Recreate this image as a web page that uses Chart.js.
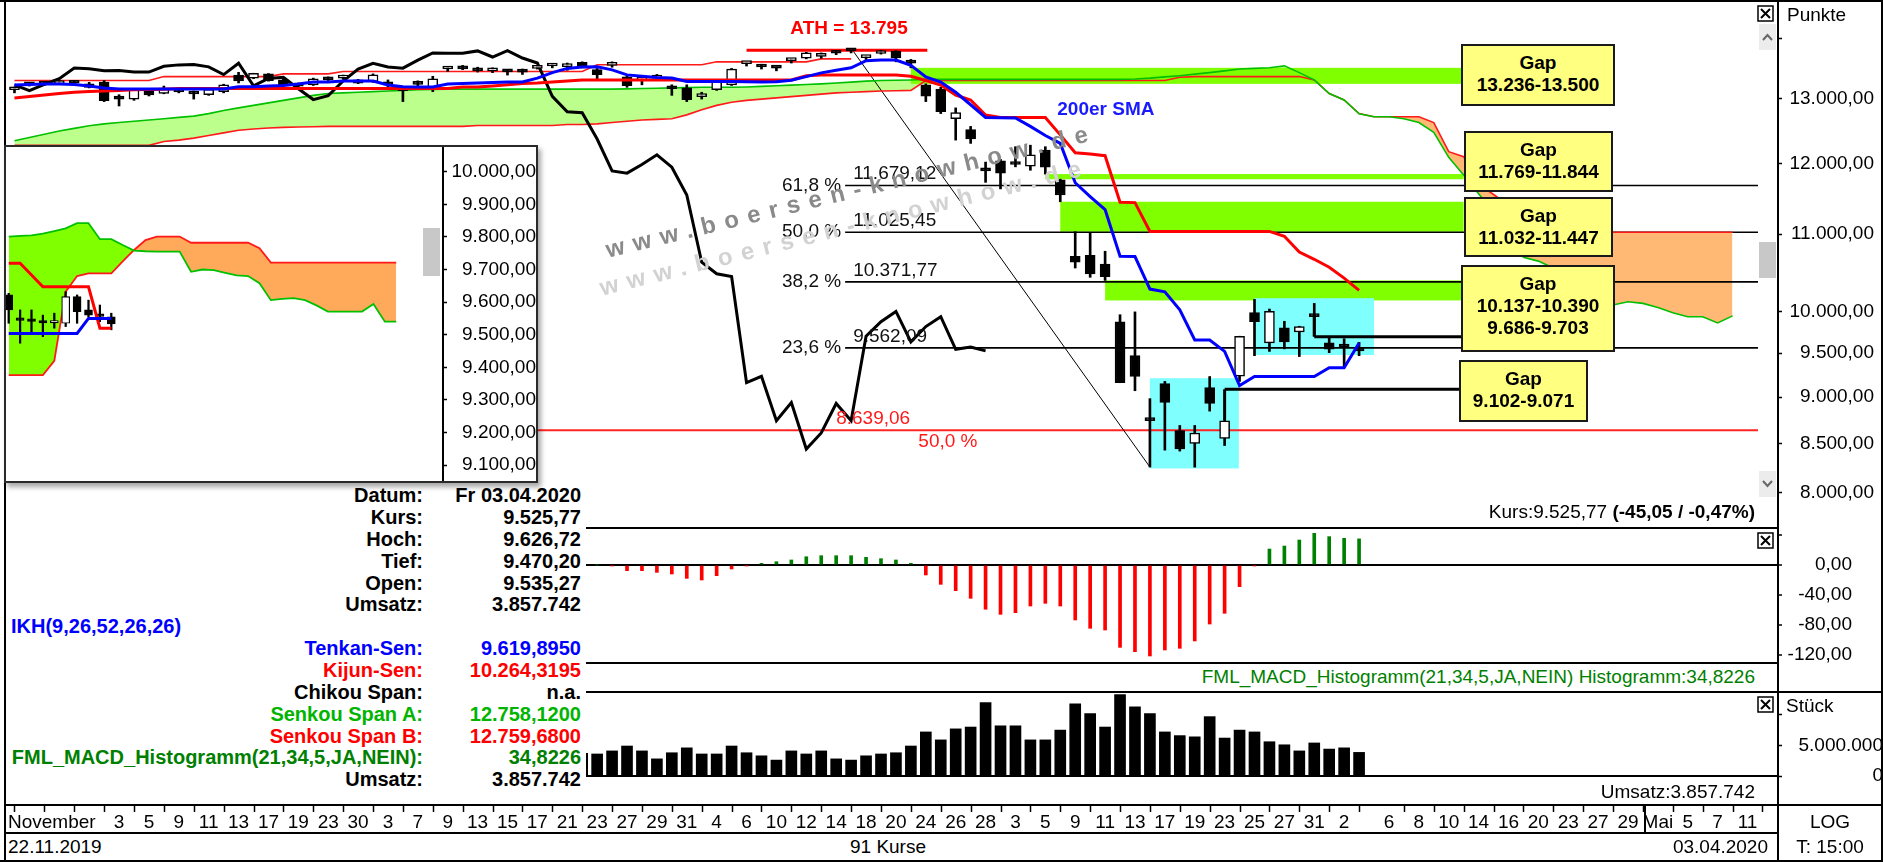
<!DOCTYPE html>
<html lang="de">
<head>
<meta charset="utf-8">
<title>DAX Ichimoku</title>
<script src="https://cdn.jsdelivr.net/npm/chart.js@4.4.1/dist/chart.umd.min.js"></script>
<style>
  html, body { margin:0; padding:0; background:#fff; }
  #root { position:relative; width:1883px; height:862px; overflow:hidden; background:#fff; font-family:'Liberation Sans', Arial, Helvetica, sans-serif; color:#000; }
  canvas { position:absolute; display:block; z-index:1; }
  .ln { position:absolute; background:#000; z-index:3; }
  .t { position:absolute; white-space:nowrap; font-size:19px; line-height:22px; height:22px; z-index:15; }
  .gap { position:absolute; z-index:16; background:#ffff80; border:2px solid #1a1a1a; box-sizing:border-box; font-weight:bold; font-size:19px; line-height:22px; text-align:center; padding-top:6px; }
  #inset { position:absolute; left:4px; top:145px; width:534px; height:338px; box-sizing:border-box; border:2px solid #2a2a2a; background:#fff; z-index:10; box-shadow:3px 4px 5px rgba(0,0,0,0.35); }
  #inset canvas { left:0; top:0; }
  #info { position:absolute; left:6px; top:484px; width:580px; height:310px; background:#fff; z-index:9; }
  .ir { position:absolute; white-space:nowrap; font-weight:bold; font-size:20px; line-height:22px; height:22px; }
  .wm { position:absolute; z-index:14; font-weight:bold; font-size:24px; letter-spacing:9px; white-space:nowrap; line-height:28px; height:28px; transform-origin:0 50%; }
  .xb { position:absolute; z-index:16; }
  .sb { position:absolute; z-index:16; background:#ececec; }
</style>
</head>
<body>
<div id="root">
  <canvas id="cMain" width="1883" height="527" style="left:0;top:0"></canvas>
  <canvas id="cMacd" width="1883" height="135" style="left:0;top:528px"></canvas>
  <canvas id="cVol" width="1883" height="141" style="left:0;top:692px"></canvas>

  <div id="inset">
    <canvas id="cInset" width="530" height="334"></canvas>
    <div style="position:absolute;left:417px;top:81px;width:17px;height:48px;background:#c8c8c8;z-index:2"></div>
  </div>

  <div id="info"></div>

  <!-- frame lines -->
  <div class="ln" style="left:0;top:0;width:1883px;height:2px"></div>
  <div class="ln" style="left:4px;top:0;width:2px;height:862px"></div>
  <div class="ln" style="left:1881px;top:0;width:2px;height:862px"></div>
  <div class="ln" style="left:0;top:860px;width:1883px;height:2px"></div>
  <div class="ln" style="left:1777px;top:0;width:2px;height:862px"></div>
  <div class="ln" style="left:4px;top:527px;width:1775px;height:2px"></div>
  <div class="ln" style="left:4px;top:662px;width:1775px;height:2px"></div>
  <div class="ln" style="left:4px;top:691px;width:1879px;height:2px"></div>
  <div class="ln" style="left:4px;top:804px;width:1879px;height:2px"></div>
  <div class="ln" style="left:4px;top:832px;width:1775px;height:2px"></div>
  <div class="ln" style="left:1644px;top:805px;width:2px;height:28px"></div>

  <!-- gap callouts -->
  <div class="gap" style="left:1461px;top:44px;width:154px;height:62px">Gap<br>13.236-13.500</div>
  <div class="gap" style="left:1464px;top:131px;width:149px;height:61px">Gap<br>11.769-11.844</div>
  <div class="gap" style="left:1464px;top:197px;width:149px;height:60px">Gap<br>11.032-11.447</div>
  <div class="gap" style="left:1461px;top:265px;width:154px;height:87px">Gap<br>10.137-10.390<br>9.686-9.703</div>
  <div class="gap" style="left:1459px;top:360px;width:129px;height:62px">Gap<br>9.102-9.071</div>

  <!-- watermark -->
  <div class="wm" style="left:606px;top:236px;color:#8a8a8a;transform:rotate(-13.6deg)">www.boersen-knowhow.de</div>
  <div class="wm" style="left:600px;top:274px;color:#d2d2d2;transform:rotate(-14deg)">www.boersen-knowhow.de</div>

  <!-- scroll / close widgets -->
  <svg class="xb" style="left:1757px;top:5px" width="17" height="17"><rect x="1" y="1" width="15" height="15" fill="#fff" stroke="#000" stroke-width="1.5"/><path d="M4 4L13 13M13 4L4 13" stroke="#000" stroke-width="2"/></svg>
  <svg class="xb" style="left:1757px;top:532px" width="17" height="17"><rect x="1" y="1" width="15" height="15" fill="#fff" stroke="#000" stroke-width="1.5"/><path d="M4 4L13 13M13 4L4 13" stroke="#000" stroke-width="2"/></svg>
  <svg class="xb" style="left:1757px;top:696px" width="17" height="17"><rect x="1" y="1" width="15" height="15" fill="#fff" stroke="#000" stroke-width="1.5"/><path d="M4 4L13 13M13 4L4 13" stroke="#000" stroke-width="2"/></svg>
  <div class="sb" style="left:1759px;top:24px;width:17px;height:26px"><svg width="17" height="26"><path d="M4 16L8.5 11L13 16" stroke="#666" stroke-width="2" fill="none"/></svg></div>
  <div class="sb" style="left:1759px;top:242px;width:17px;height:36px;background:#c8c8c8"></div>
  <div class="sb" style="left:1759px;top:471px;width:17px;height:26px"><svg width="17" height="26"><path d="M4 10L8.5 15L13 10" stroke="#666" stroke-width="2" fill="none"/></svg></div>

  <!-- texts -->
  <div class="t" style="left:1787px;top:4px">Punkte</div>
  <div class="t" style="left:1786px;top:695px">Stück</div>
  <div class="t" style="right:128px;top:501px">Kurs:9.525,77 <b>(-45,05 / -0,47%)</b></div>
  <div class="t" style="right:128px;top:666px;color:#008000">FML_MACD_Histogramm(21,34,5,JA,NEIN) Histogramm:34,8226</div>
  <div class="t" style="right:128px;top:781px">Umsatz:3.857.742</div>
  <div class="t" style="left:8px;top:836px">22.11.2019</div>
  <div class="t" style="left:838px;top:836px;width:100px;text-align:center">91 Kurse</div>
  <div class="t" style="left:1600px;top:836px;width:168px;text-align:right">03.04.2020</div>
  <div class="t" style="left:1780px;top:811px;width:100px;text-align:center">LOG</div>
  <div class="t" style="left:1780px;top:836px;width:100px;text-align:center">T: 15:00</div>
</div>

<script>
// ---------------- DATA ----------------
// candles, one per trading day 22.11.2019 .. 03.04.2020 (91 bars)
const OPEN = [13140,13220,13250,13240,13280,13180,13266,13040,12990,13150,
 13080,13150,13090,13060,13110,13380,13330,13400,13300,13200,
 13220,13320,13330,13300,13270,13260,13130,13230,13140,13480,
 13510,13500,13450,13450,13470,13490,13530,13520,13590,13470,
 13540,13350,13300,13330,13170,13170,13030,13140,13220,13570,
 13530,13500,13620,13660,13690,13770,13785,13670,13740,13780,
 13590,13220,13150,12680,12510,11900,12040,12000,11960,12200,
 11760,10704,10717,10600,9874,9470,8750,9150,8635,8500,
 9105,8552,9235,9985,9620,9800,9750,9960,9620,9580,
 9535.27];
const HIGH = [13185,13260,13270,13290,13290,13260,13290,13060,13150,13160,
 13200,13170,13120,13160,13230,13425,13410,13405,13310,13250,
 13330,13350,13380,13310,13400,13300,13150,13285,13360,13510,
 13540,13510,13500,13470,13480,13540,13560,13580,13600,13490,
 13600,13360,13370,13390,13220,13220,13100,13300,13490,13590,
 13560,13510,13650,13760,13750,13780,13790,13700,13795,13790,
 13640,13236,13180,12850,12560,12020,12060,12250,12273,12250,
 11769,11032,11010,10770,9960,9995,8982,9175,8690,8690,
 9230,8760,9700,10150,10030,9880,9820,10100,9686,9670,
 9626.72];
const LOW = [13090,13200,13215,13235,13230,13170,12950,12880,12970,13040,
 13075,13090,12990,13050,13090,13250,13320,13280,13200,13170,
 13210,13290,13310,13240,13260,13180,12950,13200,13110,13440,
 13470,13430,13420,13380,13390,13480,13500,13460,13500,13300,
 13510,13180,13220,13300,13050,12950,12990,13130,13210,13530,
 13480,13450,13580,13650,13660,13720,13750,13620,13730,13600,
 13500,12950,12760,12350,12300,11724,11630,11950,11900,11844,
 11447,10550,10430,10390,9160,9070,8256,8430,8420,8255,
 8845,8478,9175,9470,9520,9550,9460,9703,9505,9340,
 9470.20];
const CLOSE = [13164,13246,13233,13287,13246,13236,12965,12989,13141,13055,
 13167,13106,13071,13149,13222,13283,13408,13288,13222,13212,
 13319,13301,13337,13249,13386,13219,13127,13227,13320,13495,
 13483,13452,13456,13432,13429,13526,13549,13556,13516,13388,
 13577,13205,13324,13345,13157,12982,13045,13282,13478,13575,
 13514,13494,13628,13750,13745,13744,13784,13681,13789,13664,
 13579,13035,12790,12775,12367,11890,11858,11985,12128,11945,
 11542,10625,10475,10439,9161,9232,8742,8939,8442,8610,
 8929,8741,9700,9874,10001,9632,9816,9936,9545,9571,
 9525.77];

// Ichimoku IKH(9,26,52,26,26)
const TENKAN = [13217,13225,13233,13233,13225,13200,13168,13152,13152,13152,
 13152,13152,13152,13152,13152,13190,13190,13200,13210,13233,
 13266,13266,13282,13282,13282,13217,13190,13184,13184,13233,
 13240,13250,13260,13266,13266,13330,13420,13490,13515,13517,
 13466,13383,13360,13340,13330,13275,13275,13275,13275,13270,
 13265,13270,13295,13355,13416,13460,13500,13620,13630,13630,
 13540,13350,13266,13100,12900,12700,12695,12690,12560,12420,
 12300,11718,11520,11337,10704,10700,10280,10245,10020,9655,
 9655,9520,9127,9230,9230,9230,9230,9230,9330,9330,
 9619.9];
const KIJUN = [13008,13030,13055,13080,13100,13110,13120,13130,13140,13145,
 13150,13160,13160,13160,13160,13160,13160,13160,13160,13160,
 13160,13160,13160,13160,13160,13160,13160,13160,13160,13160,
 13185,13185,13200,13220,13240,13250,13266,13283,13300,13300,
 13300,13300,13300,13300,13300,13300,13300,13300,13300,13300,
 13300,13300,13300,13367,13383,13383,13383,13383,13383,13383,
 13360,13290,13217,13055,12975,12738,12700,12700,12700,12700,
 12430,12160,12140,12115,11440,11435,11036,11036,11036,11036,
 11036,11036,11036,11036,11036,10970,10760,10664,10560,10420,
 10264.32];
const CHIKOU = [13219,13127,13227,13320,13495,13483,13452,13456,13432,13429,
 13526,13549,13556,13516,13388,13577,13205,13324,13345,13157,
 12982,13045,13282,13478,13575,13514,13494,13628,13750,13745,
 13744,13784,13681,13789,13664,13579,13035,12790,12775,12367,
 11890,11858,11985,12128,11945,11542,10625,10475,10439,9161,
 9232,8742,8939,8442,8610,8929,8741,9701,9874,10001,
 9633,9816,9936,9545,9571,9526];
const SENKOU_A = [12340,12390,12440,12490,12530,12570,12600,12620,12640,12660,
 12680,12700,12720,12760,12810,12850,12890,12930,12970,13010,
 13050,13080,13090,13100,13110,13120,13130,13140,13145,13150,
 13150,13150,13150,13150,13150,13150,13150,13150,13150,13150,
 13150,13155,13160,13165,13170,13175,13180,13180,13180,13185,
 13195,13205,13215,13225,13235,13250,13265,13280,13290,13295,
 13300,13310,13310,13310,13310,13310,13310,13310,13310,13310,
 13310,13310,13310,13310,13310,13316,13330,13350,13370,13395,
 13420,13450,13480,13490,13500,13533,13420,13300,13080,12975,
 12758,12710,12710,12680,12620,12470,12090,11830,11560,11300,
 11000,10690,10640,10550,10420,10280,10160,10080,10120,10100,
 10050,9983,9935,9935,9860,9946];
const SENKOU_B = [12270,12270,12270,12270,12270,12270,12270,12270,12270,12270,
 12330,12350,12380,12420,12460,12500,12520,12535,12545,12550,
 12555,12560,12560,12560,12560,12560,12560,12560,12560,12560,
 12560,12575,12575,12575,12575,12575,12575,12590,12590,12600,
 12620,12640,12660,12670,12680,12740,12820,12890,12940,12970,
 12990,13010,13030,13050,13070,13090,13100,13110,13120,13125,
 13130,13290,13290,13290,13290,13290,13290,13290,13290,13290,
 13290,13290,13290,13290,13290,13290,13290,13290,13345,13355,
 13355,13355,13355,13355,13355,13355,13355,13300,13080,12975,
 12760,12710,12710,12710,12710,12620,12175,12100,11700,11550,
 11400,11200,11025,11025,11025,11025,11025,11025,11025,11025,
 11025,11025,11025,11025,11025,11025];
// thin red resistance line above the candles
const UPPER_LINE = [13290,13290,13290,13290,13290,13290,13290,13290,13290,13290,
 13355,13355,13355,13355,13355,13355,13355,13355,
 13400,13400,13400,13400,
 13440,13440,13440,13440,13440,13440,13440,13440,13440,13440,13440,13440,13440,13440,13440,13440,13440,
 13550,13550,13550,13550,13550,13550,13550,13550,
 13600,13600,13600,13600,13600,13600,13600,
 13650,13650,13650];

// FML_MACD_Histogramm(21,34,5,JA,NEIN)
const MACD_HIST = [5,6,7,6,5,3,-4,-8,-9,-8,
 -6,-5,-4,-2,1,4,7,8,7,6,
 6,5,5,3,4,2,-2,-1,1,4,
 6,7,6,5,4,3,4,3,1,0,
 -1,-7.6,-7.6,-9.8,-12,-17.8,-20,-14.2,-5.3,-1,
 2.2,4.4,6.7,11,12.4,12.4,12.4,10.2,8.4,6.7,
 2.2,-13.3,-25.8,-34.2,-44.4,-59,-65.8,-63.6,-54.7,-51.1,
 -54.7,-73.3,-84.4,-86.7,-109.8,-115.6,-121.3,-113.3,-111.1,-101.3,
 -78.7,-64.4,-28.9,-1,21.3,25.3,33.3,42.2,37.8,35.6,
 34.8226];

// Umsatz (Stück)
const VOLUME = [3900000,3200000,3000000,3100000,2200000,3300000,4100000,4000000,3800000,3600000,
 3700000,3000000,3200000,3400000,3900000,4600000,3800000,3500000,3200000,4000000,
 6200000,2200000,1600000,2000000,2500000,3200000,3300000,3600000,4100000,3700000,
 3500000,3300000,3400000,3500000,3900000,4400000,3000000,3800000,3700000,3600000,
 4100000,4900000,4100000,2800000,3800000,4600000,3600000,3600000,4900000,3800000,
 3300000,2600000,4100000,3600000,4100000,2800000,2600000,3300000,3600000,3800000,
 4900000,7200000,5900000,7700000,8000000,12000000,8200000,8200000,5900000,5900000,
 7500000,11800000,10200000,8000000,13300000,11300000,10200000,7200000,6600000,6400000,
 9700000,6200000,7500000,7200000,5600000,5100000,4100000,5400000,4400000,4600000,
 3857742];

// x axis labels (bar index -> text)
const XTICK_POS = [2.5,7,9,11,13,15,17,19,21,23,25,27,29,31,33,35,37,39,41,43,45,47,49,51,53,55,57,59,61,63,65,67,69,71,73,75,77,79,81,83,85,87,89,92,94,96,98,100,102,104,106,108,110,112,114,116];
const XTICK_TEXT = ['November','3','5','9','11','13','17','19','23','30','3','7','9','13','15','17','21','23','27','29','31','4','6','10','12','14','18','20','24','26','28','3','5','9','11','13','17','19','23','25','27','31','2','6','8','10','14','16','20','23','27','29','Mai','5','7','11'];
const XTICK_MARKS = [0,2,4,6,8,10,12,14,16,18,20,22,24,26,28,30,32,34,36,38,40,42,44,46,48,50,52,54,56,58,60,62,64,66,68,70,72,74,76,78,80,82,84,86,88,90,93,95,97,99,101,103,105,107,109,111,113,115,117];

// y axis tick values
const MAIN_TICKS = [8000,8500,9000,9500,10000,11000,12000,13000,14000];
const MACD_TICKS = [40,0,-40,-80,-120];
const VOL_TICKS = [0,5000000,10000000];
const INSET_TICKS = [9100,9200,9300,9400,9500,9600,9700,9800,9900,10000];

// annotations
const GAP_LOW = [13236, 11769, 11032, 10137];
const GAP_HIGH = [13500, 11844, 11447, 10390];
const GAP_START = [60, 69, 70, 73];
const GAP_END = 97;
const GAP_LINE_LOW = [9686, 9071];
const GAP_LINE_HIGH = [9703, 9102];
const GAP_LINE_START = [87, 81];
const GAP_LINE_LINK = [9970, 8750];
const BOX_X0 = [76, 83];
const BOX_X1 = [81.95, 91];
const BOX_LOW = [8242, 9478];
const BOX_HIGH = [9211, 10165];
const FIB_PCT = ['61,8 %', '50,0 %', '38,2 %', '23,6 %'];
const FIB_VALUE = [11679.12, 11025.45, 10371.77, 9562.09];
const FIB_FROM = 55.6;
const LINE_END = 116.7;
const RED_LEVEL = 8639.06;
const RED_LABEL_X = [55.0, 60.5];
const ATH_VALUE = 13795;
const ATH_RANGE = [49.0, 61.1];
const ATH_LABEL_X = 55.86;
const TREND_X = [56.1, 76.0];
const TREND_Y = [13795, 8256];
const SMA_LABEL = [69.8, 12817];

// inset (zoomed view)
const INSET_OPEN  = [9622, 9546, 9543, 9538, 9536, 9535, 9617, 9576, 9558, 9555];
const INSET_HIGH  = [9627, 9576, 9576, 9560, 9566, 9632, 9622, 9606, 9591, 9566];
const INSET_LOW   = [9535, 9474, 9509, 9494, 9520, 9525, 9535, 9555, 9540, 9515];
const INSET_CLOSE = [9576, 9544, 9541, 9536, 9537, 9617, 9571, 9560, 9556, 9533];
const INSET_TENKAN = [9504, 9504, 9504, 9504, 9504, 9504, 9504, 9550, 9550, 9550];
const INSET_KIJUN  = [9719, 9719, 9683, 9647, 9647, 9647, 9647, 9647, 9520, 9520];
const INSET_A = [9801,9803,9805,9810,9818,9826,9842,9842,9793,9793,
 9775,9758,9756,9755,9755,9755,9693,9700,9698,9690,
 9682,9680,9658,9606,9610,9612,9606,9590,9571,9571,
 9571,9571,9594,9540,9540];
const INSET_B = [9376,9376,9376,9376,9420,9632,9680,9688,9688,9688,
 9725,9760,9790,9801,9801,9801,9782,9782,9782,9782,
 9782,9782,9765,9721,9721,9721,9721,9721,9721,9721,
 9721,9721,9721,9721,9721];

// info panel
const INFO_LABELS = ['Datum:','Kurs:','Hoch:','Tief:','Open:','Umsatz:','IKH(9,26,52,26,26)','Tenkan-Sen:','Kijun-Sen:','Chikou Span:','Senkou Span A:','Senkou Span B:','FML_MACD_Histogramm(21,34,5,JA,NEIN):','Umsatz:'];
const INFO_VALUES = ['Fr 03.04.2020','9.525,77','9.626,72','9.470,20','9.535,27','3.857.742','','9.619,8950','10.264,3195','n.a.','12.758,1200','12.759,6800','34,8226','3.857.742'];
const INFO_COLORS = ['#000','#000','#000','#000','#000','#000','#0000ff','#0000ff','#ff0000','#000','#00b400','#ff0000','#008000','#000'];

// ---------------- HELPERS ----------------
const FONT = "'Liberation Sans', Arial, Helvetica, sans-serif";
Chart.defaults.font.family = FONT;
Chart.defaults.font.size = 19;
Chart.defaults.color = '#000';
Chart.defaults.animation = false;

function fmtDE(v, dec) {
  const neg = v < 0;
  const parts = Math.abs(v).toFixed(dec).split('.');
  const int = parts[0].replace(/\B(?=(\d{3})+(?!\d))/g, '.');
  return (neg ? '-' : '') + int + (dec ? ',' + parts[1] : '');
}
const P = arr => arr.map((v, i) => ({x: i, y: v}));
const X_MIN = -0.5, X_MAX = 118.04;
const xHidden = () => ({type: 'linear', min: X_MIN, max: X_MAX, offset: false, display: false, grid: {display: false}});
const commonPlugins = {legend: {display: false}, tooltip: {enabled: false}};
// fix axis size and drop the automatic label padding so the plot area is exact
const fitW = w => s => { s.width = w; s.paddingTop = 0; s.paddingBottom = 0; s.paddingLeft = 0; s.paddingRight = 0; };
const fitH = h => s => { s.height = h; s.paddingTop = 0; s.paddingBottom = 0; s.paddingLeft = 0; s.paddingRight = 0; };

// info panel rows
(function () {
  const box = document.getElementById('info');
  INFO_LABELS.forEach((lab, k) => {
    const top = (k * 21.87).toFixed(1) + 'px';
    const l = document.createElement('div');
    l.className = 'ir';
    l.style.top = top; l.style.color = INFO_COLORS[k];
    if (INFO_VALUES[k] === '') { l.style.left = '5px'; }
    else { l.style.left = '0px'; l.style.width = '417px'; l.style.textAlign = 'right'; }
    l.textContent = lab;
    box.appendChild(l);
    if (INFO_VALUES[k] !== '') {
      const v = document.createElement('div');
      v.className = 'ir';
      v.style.top = top; v.style.left = '420px'; v.style.width = '155px'; v.style.textAlign = 'right';
      v.style.color = INFO_COLORS[k];
      v.textContent = INFO_VALUES[k];
      box.appendChild(v);
    }
  });
})();

// ---------------- MAIN CHART ----------------
const mainAnnot = {
  id: 'mainAnnot',
  afterDatasetDraw(chart, args) {
    if (args.index !== 0) return;
    const {ctx, chartArea: ca} = chart;
    const xs = chart.scales.x, ys = chart.scales.y;
    const X = v => xs.getPixelForValue(v), Y = v => ys.getPixelForValue(v);
    const line = (x0, y0, x1, y1) => { ctx.beginPath(); ctx.moveTo(x0, y0); ctx.lineTo(x1, y1); ctx.stroke(); };
    ctx.save();
    ctx.beginPath(); ctx.rect(ca.left, ca.top, ca.right - ca.left, ca.bottom - ca.top); ctx.clip();
    ctx.fillStyle = '#80ff00';
    GAP_LOW.forEach((lo, k) => {
      const x0 = X(GAP_START[k]), x1 = X(GAP_END), y0 = Y(GAP_HIGH[k]), y1 = Y(lo);
      ctx.fillRect(x0, y0, x1 - x0, Math.max(3, y1 - y0));
    });
    ctx.fillStyle = '#80ffff';
    BOX_X0.forEach((x0, k) => {
      const a = X(x0), b = X(BOX_X1[k]), t = Y(BOX_HIGH[k]), u = Y(BOX_LOW[k]);
      ctx.fillRect(a, t, b - a, u - t);
    });
    ctx.strokeStyle = '#ff2424'; ctx.lineWidth = 2;
    line(X(X_MIN), Y(RED_LEVEL), X(LINE_END), Y(RED_LEVEL));
    ctx.strokeStyle = '#000'; ctx.lineWidth = 1.6;
    FIB_VALUE.forEach(v => line(X(FIB_FROM), Y(v), X(LINE_END), Y(v)));
    ctx.lineWidth = 1;
    line(X(TREND_X[0]), Y(TREND_Y[0]), X(TREND_X[1]), Y(TREND_Y[1]));
    ctx.lineWidth = 3;
    GAP_LINE_LOW.forEach((lo, k) => {
      const y = Y((lo + GAP_LINE_HIGH[k]) / 2);
      line(X(GAP_LINE_START[k]), y, X(GAP_END), y);
      line(X(GAP_LINE_START[k]), y, X(GAP_LINE_START[k]), Y(GAP_LINE_LINK[k]));
    });
    ctx.strokeStyle = '#ff0000'; ctx.lineWidth = 3;
    line(X(ATH_RANGE[0]), Y(ATH_VALUE), X(ATH_RANGE[1]), Y(ATH_VALUE));
    ctx.restore();
  },
  afterDatasetsDraw(chart) {
    const {ctx} = chart;
    const xs = chart.scales.x, ys = chart.scales.y;
    const X = v => xs.getPixelForValue(v), Y = v => ys.getPixelForValue(v);
    ctx.save();
    ctx.font = '19px ' + FONT;
    ctx.fillStyle = '#111';
    FIB_VALUE.forEach((v, k) => {
      const y = Y(v);
      ctx.textAlign = 'right'; ctx.textBaseline = 'middle';
      ctx.fillText(FIB_PCT[k], X(FIB_FROM) - 4, y);
      ctx.textAlign = 'left'; ctx.textBaseline = 'alphabetic';
      ctx.fillText(fmtDE(v, 2), X(FIB_FROM) + 8, y - 6);
    });
    ctx.fillStyle = '#ff1a1a';
    const yr = Y(RED_LEVEL);
    ctx.textAlign = 'left'; ctx.textBaseline = 'alphabetic';
    ctx.fillText(fmtDE(RED_LEVEL, 2), X(RED_LABEL_X[0]), yr - 6);
    ctx.textBaseline = 'middle';
    ctx.fillText('50,0 %', X(RED_LABEL_X[1]), yr + 12);
    ctx.font = 'bold 19px ' + FONT;
    ctx.fillStyle = '#ff0000'; ctx.textAlign = 'center'; ctx.textBaseline = 'middle';
    ctx.fillText('ATH = ' + fmtDE(ATH_VALUE, 0), X(ATH_LABEL_X), Y(ATH_VALUE) - 22);
    ctx.fillStyle = '#1a1aff'; ctx.textAlign = 'left';
    ctx.fillText('200er SMA', X(SMA_LABEL[0]), Y(SMA_LABEL[1]));
    ctx.restore();
  }
};

new Chart(document.getElementById('cMain'), {
  type: 'bar',
  data: {
    datasets: [
      {type: 'line', data: P(SENKOU_A), borderColor: 'rgba(0,0,0,0)', borderWidth: 1, pointRadius: 0,
       fill: {target: 1, above: '#bcff8c', below: '#ffb974'}, order: 100},
      {type: 'line', data: P(SENKOU_B), borderColor: '#ff1a1a', borderWidth: 1.6, pointRadius: 0, fill: false, order: 90},
      {type: 'line', data: P(SENKOU_A), borderColor: '#00c000', borderWidth: 1.6, pointRadius: 0, fill: false, order: 89},
      {type: 'line', data: P(UPPER_LINE), borderColor: '#ff1a1a', borderWidth: 1.6, pointRadius: 0, fill: false, order: 85},
      {type: 'line', data: P(CHIKOU), borderColor: '#000', borderWidth: 3, pointRadius: 0, fill: false, order: 80},
      {type: 'bar', data: LOW.map((l, i) => ({x: i, y: [l, HIGH[i]]})), backgroundColor: '#000',
       barThickness: 2, grouped: false, order: 70},
      {type: 'bar', data: OPEN.map((o, i) => ({x: i, y: [o, CLOSE[i]]})),
       backgroundColor: OPEN.map((o, i) => CLOSE[i] >= o ? '#ffffff' : '#000000'),
       borderColor: '#000', borderWidth: 1.5, borderSkipped: false, barThickness: 10, minBarLength: 3,
       grouped: false, order: 69},
      {type: 'line', data: P(KIJUN), borderColor: '#ff0000', borderWidth: 3, pointRadius: 0, fill: false, order: 60},
      {type: 'line', data: P(TENKAN), borderColor: '#0000ff', borderWidth: 3, pointRadius: 0, fill: false, order: 50}
    ]
  },
  options: {
    responsive: false, animation: false,
    layout: {padding: {left: 7, right: 9, top: 2, bottom: 3}},
    plugins: commonPlugins,
    scales: {
      x: xHidden(),
      y: {
        type: 'logarithmic', position: 'right', min: 7697, max: 14640,
        afterFit: fitW(96),
        afterBuildTicks: s => { s.ticks = MAIN_TICKS.map(v => ({value: v})); },
        ticks: {autoSkip: false, padding: 4, crossAlign: 'far', color: '#000', font: {size: 19},
                callback: v => v === 14000 ? '' : fmtDE(v, 2)},
        grid: {drawOnChartArea: false, drawTicks: true, tickLength: 4, tickColor: '#000', tickWidth: 1.5},
        border: {display: true, color: '#000', width: 2}
      }
    }
  },
  plugins: [mainAnnot]
});

// ---------------- INSET ----------------
new Chart(document.getElementById('cInset'), {
  type: 'bar',
  data: {
    datasets: [
      {type: 'line', data: P(INSET_A), borderColor: 'rgba(0,0,0,0)', borderWidth: 1, pointRadius: 0,
       fill: {target: 1, above: '#80ff00', below: '#ffaa5a'}, order: 100},
      {type: 'line', data: P(INSET_B), borderColor: '#ff1a1a', borderWidth: 1.8, pointRadius: 0, fill: false, order: 90},
      {type: 'line', data: P(INSET_A), borderColor: '#00c000', borderWidth: 1.8, pointRadius: 0, fill: false, order: 89},
      {type: 'bar', data: INSET_LOW.map((l, i) => ({x: i, y: [l, INSET_HIGH[i]]})), backgroundColor: '#000',
       barThickness: 1.6, grouped: false, order: 70},
      {type: 'bar', data: INSET_OPEN.map((o, i) => ({x: i, y: [o, INSET_CLOSE[i]]})),
       backgroundColor: INSET_OPEN.map((o, i) => INSET_CLOSE[i] >= o ? '#ffffff' : '#000000'),
       borderColor: '#000', borderWidth: 1.2, borderSkipped: false, barThickness: 8, minBarLength: 2.5,
       grouped: false, order: 69},
      {type: 'line', data: P(INSET_KIJUN), borderColor: '#ff0000', borderWidth: 3, pointRadius: 0, fill: false, order: 60},
      {type: 'line', data: P(INSET_TENKAN), borderColor: '#0000ff', borderWidth: 3, pointRadius: 0, fill: false, order: 50}
    ]
  },
  options: {
    responsive: false, animation: false,
    layout: {padding: 0},
    plugins: commonPlugins,
    scales: {
      x: {type: 'linear', min: -0.237, max: 38.1, offset: false, display: false, grid: {display: false}},
      y: {
        type: 'linear', position: 'right', min: 9051.2, max: 10075.8,
        afterFit: fitW(93),
        afterBuildTicks: s => { s.ticks = INSET_TICKS.map(v => ({value: v})); },
        ticks: {autoSkip: false, padding: 2, crossAlign: 'far', color: '#000', font: {size: 19},
                callback: v => fmtDE(v, 2)},
        grid: {drawOnChartArea: false, drawTicks: true, tickLength: 4, tickColor: '#000', tickWidth: 1.5},
        border: {display: true, color: '#000', width: 2}
      }
    }
  }
});

// ---------------- MACD ----------------
new Chart(document.getElementById('cMacd'), {
  type: 'bar',
  data: {
    datasets: [{data: P(MACD_HIST), backgroundColor: MACD_HIST.map(v => v >= 0 ? '#008000' : '#ff0000'),
                barThickness: 3, grouped: false}]
  },
  options: {
    responsive: false, animation: false,
    layout: {padding: {left: 7, right: 31, top: 0, bottom: 0}},
    plugins: commonPlugins,
    scales: {
      x: xHidden(),
      y: {
        type: 'linear', position: 'right', min: -130.67, max: 49.33,
        afterFit: fitW(74),
        afterBuildTicks: s => { s.ticks = MACD_TICKS.map(v => ({value: v})); },
        ticks: {autoSkip: false, padding: 3, crossAlign: 'far', color: '#000', font: {size: 19},
                callback: v => v > 0 ? '' : fmtDE(v, 2)},
        grid: {drawOnChartArea: true, drawTicks: true, tickLength: 4, tickColor: '#000', tickWidth: 1.5,
               lineWidth: 2, color: c => (c.tick && c.tick.value === 0) ? '#000' : 'rgba(0,0,0,0)'},
        border: {display: true, color: '#000', width: 2}
      }
    }
  }
});

// ---------------- VOLUME + X AXIS ----------------
const xTickMarks = {
  id: 'xTickMarks',
  afterDraw(chart) {
    const {ctx} = chart; const xs = chart.scales.x;
    ctx.save(); ctx.strokeStyle = '#000'; ctx.lineWidth = 1.5;
    XTICK_MARKS.forEach(v => {
      const x = Math.round(xs.getPixelForValue(v)) + 0.5;
      ctx.beginPath(); ctx.moveTo(x, 114); ctx.lineTo(x, 120); ctx.stroke();
    });
    ctx.restore();
  }
};
new Chart(document.getElementById('cVol'), {
  type: 'bar',
  data: {datasets: [{data: P(VOLUME), backgroundColor: '#000', barThickness: 11, grouped: false}]},
  options: {
    responsive: false, animation: false,
    layout: {padding: {left: 7, right: 0, top: 0, bottom: 0}},
    plugins: commonPlugins,
    scales: {
      x: {
        type: 'linear', position: 'bottom', min: X_MIN, max: X_MAX, offset: false,
        afterFit: fitH(57),
        afterBuildTicks: s => { s.ticks = XTICK_POS.map(v => ({value: v})); },
        ticks: {autoSkip: false, maxRotation: 0, minRotation: 0, padding: 0, color: '#000', font: {size: 19},
                callback: (v, i) => XTICK_TEXT[i]},
        grid: {display: true, drawOnChartArea: false, drawTicks: true, tickLength: 35, tickColor: 'rgba(0,0,0,0)'},
        border: {display: true, color: '#000', width: 2}
      },
      y: {
        type: 'linear', position: 'right', min: 0, max: 13725000,
        afterFit: fitW(105),
        afterBuildTicks: s => { s.ticks = VOL_TICKS.map(v => ({value: v})); },
        ticks: {autoSkip: false, padding: 4, crossAlign: 'far', color: '#000', font: {size: 19},
                callback: v => v === 10000000 ? '' : fmtDE(v, 0)},
        grid: {drawOnChartArea: false, drawTicks: true, tickLength: 4, tickColor: '#000', tickWidth: 1.5},
        border: {display: true, color: '#000', width: 2}
      }
    }
  },
  plugins: [xTickMarks]
});
</script>
</body>
</html>
